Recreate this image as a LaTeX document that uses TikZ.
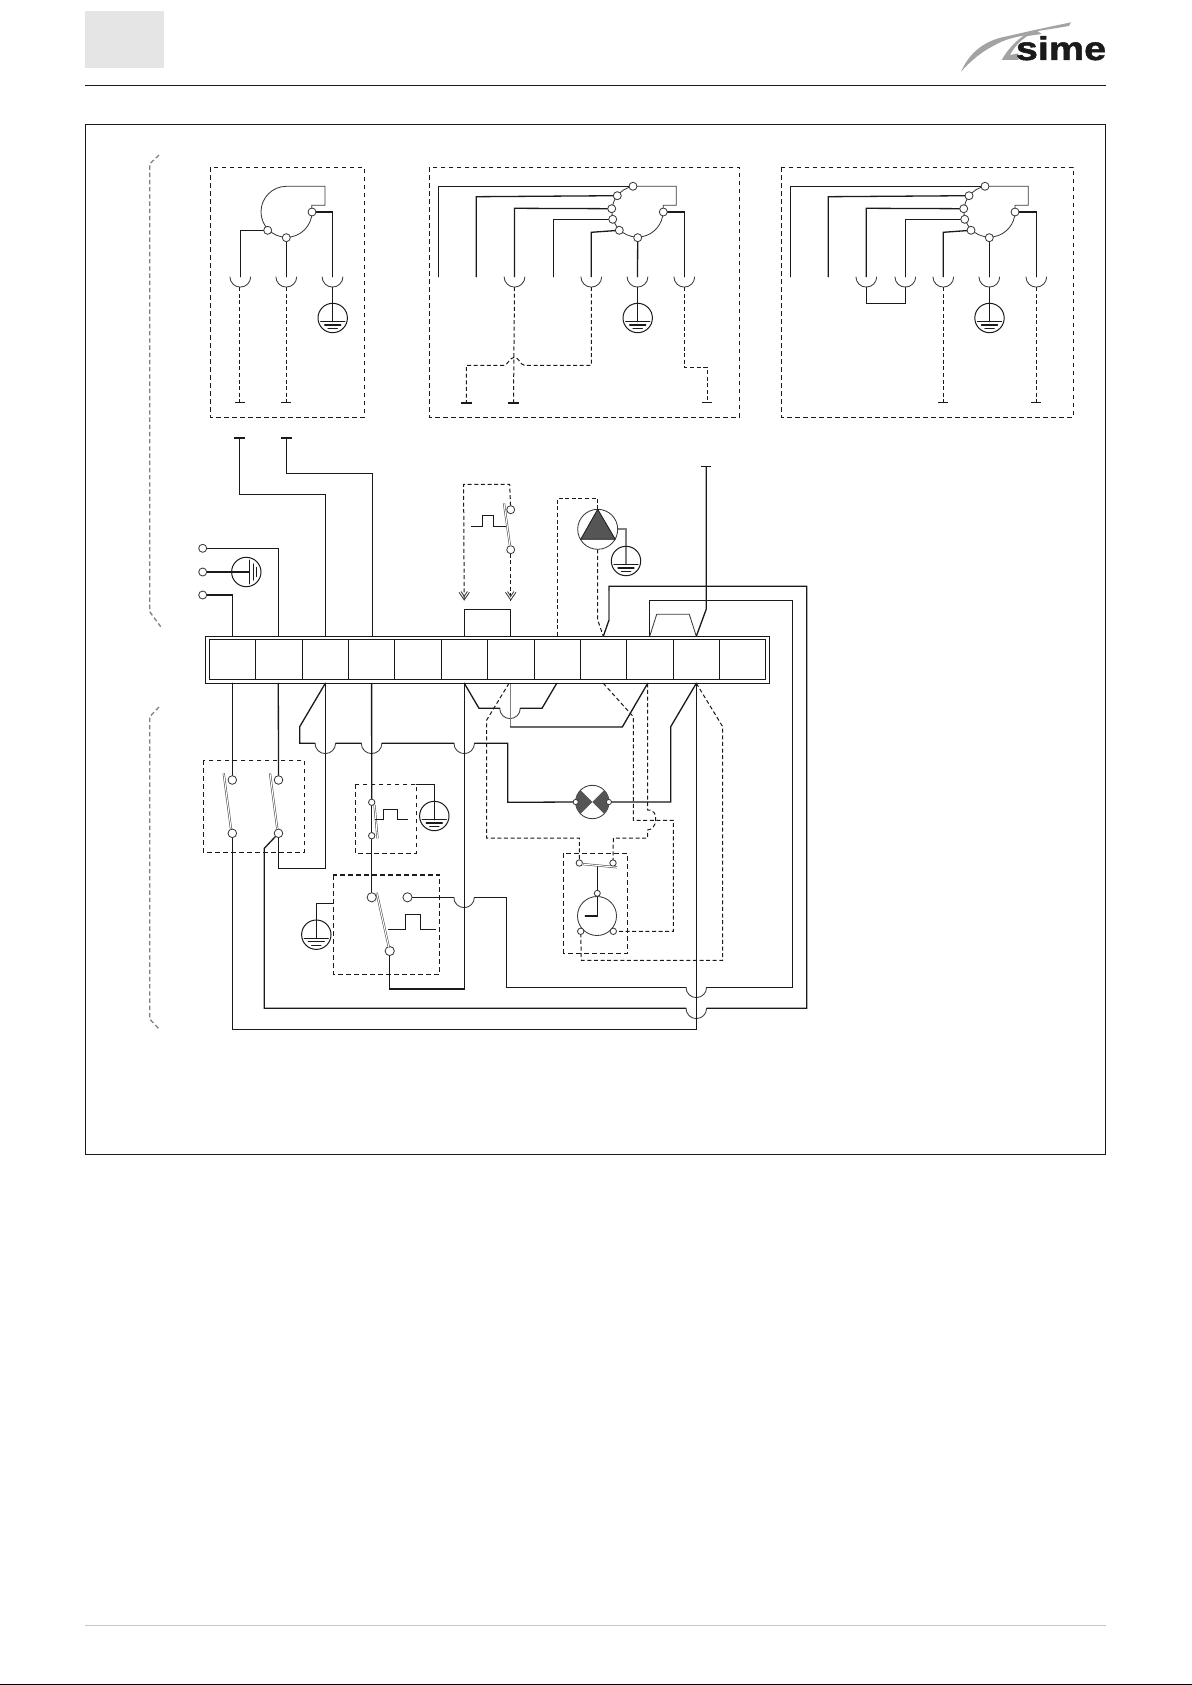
\documentclass[tikz,border=0pt]{standalone}
\usepackage{fontspec}
\usetikzlibrary{backgrounds}
\newfontfamily\logofont[FakeStretch=1.2,BoldFeatures={FakeBold=1.5}]{Liberation Sans}
\definecolor{ink}{HTML}{1A1A1A}
\definecolor{thinink}{HTML}{3A3A3A}
\definecolor{hatch}{HTML}{555555}
\definecolor{swoosh}{HTML}{A3A3A3}
\tikzset{
  wire/.style={draw=ink,line width=0.65pt,line cap=round,line join=miter},
  gwire/.style={draw=gray,line width=0.9pt},
  thinl/.style={draw=thinink,line width=0.42pt},
  frameline/.style={draw=ink,line width=0.75pt},
  dbox/.style={draw=ink,line width=0.55pt,dash pattern=on 2.4pt off 1.6pt},
  dwire/.style={draw=ink,line width=0.5pt,dash pattern=on 2pt off 1.3pt},
  bracket/.style={draw=gray,line width=0.65pt,dash pattern=on 2.2pt off 1.4pt},
  term/.style={circle,draw=thinink,line width=0.42pt,fill=white,inner sep=0pt,outer sep=0pt,minimum size=4pt},
  smallterm/.style={term,minimum size=3.2pt},
  bigterm/.style={term,minimum size=4.6pt},
  gnd/.style={circle,draw=ink,line width=0.5pt,inner sep=0pt,outer sep=0pt,minimum size=14.7pt},
  teethin/.style={rectangle,fill=ink,inner sep=0pt,outer sep=0pt,minimum width=5pt,minimum height=0.5pt},
  teethick/.style={rectangle,fill=ink,inner sep=0pt,outer sep=0pt,minimum width=5.5pt,minimum height=1pt},
  cell/.style={rectangle,draw=ink,line width=0.6pt,inner sep=0pt,outer sep=0pt,minimum height=20pt},
  blade/.style={draw=thinink,line width=0.25pt,double=white,double distance=0.55pt},
  pulse/.style={draw=ink,line width=0.6pt},
}
\newcommand\socket[1]{\draw[thinl] ([xshift=-5.2pt]#1) arc (180:360:5.2pt);}
\newcommand\hopx[2]{\draw[thinl] (#1-10.3,#2) arc (180:360:5.15pt);}
\newcommand\gndlines[1]{%
  \draw[wire] ([xshift=-6pt,yshift=-1.85pt]#1.center) -- ++(12pt,0);
  \draw[wire] ([xshift=-4pt,yshift=-3.5pt]#1.center) -- ++(8pt,0);
  \draw[wire] ([xshift=-2.3pt,yshift=-5.35pt]#1.center) -- ++(4.6pt,0);}
\begin{document}
\begin{tikzpicture}[x=0.5pt,y=-0.5pt]
\useasboundingbox (0,0) rectangle (1192,1685);
\begin{scope}[on background layer]
\fill[white] (0,0) rectangle (1192,1685);
\end{scope}
% page furniture
\fill[fill=black!10!white,fill=gray!20!white] (85,11) rectangle (164,68);
\draw[frameline] (85,85.3) -- (1105.7,85.3);
\draw[frameline] (85.3,124.3) rectangle (1105.3,1154.3);
\draw[draw=black!22,line width=0.6pt] (85,1625.4) -- (1106,1625.4);
\fill[black] (0,1683.7) rectangle (1192,1685);
% logo
\begin{scope}[shift={(950,10)},x=0.16667pt,y=-0.16667pt]
\fill[swoosh] (33,185) .. controls (60,125) and (105,90) .. (175,78) .. controls (230,65) and (300,50) .. (363,37) -- (357,48) .. controls (320,54) and (285,60) .. (262,63) -- (230,75) .. controls (190,82) and (160,90) .. (135,105) .. controls (95,125) and (65,150) .. (33,185) -- cycle;
\fill[swoosh] (238,64) .. controls (200,90) and (175,115) .. (155,150) -- (205,150) -- (205,130) -- (180,135) .. controls (190,115) and (210,92) .. (232,78) -- (275,72) -- (262,63) -- cycle;
\end{scope}
\node[anchor=base,inner sep=0pt,text=ink] (logo) at (1061,60) {\fontsize{16.5pt}{18pt}\logofont\bfseries sime};
% brackets
\draw[bracket] (159,155) -- (149.7,164) -- (149.7,611.7) -- (160.7,626.7);
\draw[bracket] (159,707) -- (149.7,716.7) -- (149.7,1019) -- (160,1030);
% dashed boxes
\draw[dbox] (210.3,167.3) rectangle (364.3,417.3);
\draw[dbox] (429.3,167.3) rectangle (739.3,417.3);
\draw[dbox] (781.3,167.3) rectangle (1073.3,417.3);
\draw[dbox] (203.3,760.3) rectangle (304.3,852.3);
\draw[dbox] (355.3,784.3) rectangle (416.3,853.3);
\draw[dbox] (333.3,875) rectangle (439.7,974.3);
\draw[dbox] (563.7,853.3) rectangle (627.3,953.3);
% terminal block
\draw[wire] (205.3,636.3) rectangle (769.3,683.3);
\foreach \i/\a/\b in {1/209.3/255.7,2/255.7/302.7,3/302.7/348.7,4/348.7/394.7,5/394.7/441.7,6/441.7/487.7,7/487.7/534.3,8/534.3/580.3,9/580.3/626.7,10/626.7/673.7,11/673.7/719.7,12/719.7/765.3}
  \node[cell,minimum width={(\b-\a)*0.5pt}] (cell\i) at ({(\a+\b)/2},659.3) {};
\foreach \i/\x in {1/232.3,2/278.3,3/325.3,4/372,5/418,6/464.3,7/510.5,8/557.3,9/603.3,10/649.7,11/696.3,12/742.5}{
  \coordinate (up\i) at (\x,636.3);
  \coordinate (dn\i) at (\x,683.3);}
% fan 1
\draw[thinl] (286.5,186.3) arc (90:360:12.75pt) -- (311.7,205.3) -- (325,205.3) -- (325,186.3) -- cycle;
\node[term] (fa1) at (267.7,230.3) {};
\node[term] (fa2) at (286.3,237.7) {};
\node[term] (fa3) at (312,212) {};
\foreach \n/\x in {sa1/240.3,sa2/286.3,sa3/332.5}{\coordinate (\n) at (\x,276.7); \socket{\n}}
\node[teethin] (ea1) at (239.5,402.3) {};
\node[teethin] (ea2) at (286.3,402.3) {};
\node[gnd] (ga) at (332.7,318) {}; \gndlines{ga}
% fan 2
\draw[thinl] (633,186.3) arc (100:360:12.8pt) -- (663.3,205.3) -- (676.3,205.3) -- (676.3,186.3) -- cycle;
\node[term] (fb1) at (633,186.3) {};
\node[term] (fb2) at (617.3,195.7) {};
\node[term] (fb3) at (611.7,208.7) {};
\node[term] (fb4) at (612.7,219.3) {};
\node[term] (fb5) at (619.3,230.3) {};
\node[term] (fb6) at (637.7,237.7) {};
\node[term] (fb7) at (663.3,212) {};
\foreach \n/\x in {sb3/514.5,sb5/591.3,sb6/637.5,sb7/684.3}{\coordinate (\n) at (\x,276.7); \socket{\n}}
\coordinate (wb1) at (438.3,276.7);
\coordinate (wb2) at (476.3,276.7);
\coordinate (wb4) at (553.3,276.7);
\node[teethick] (eb1) at (466.3,403) {};
\node[teethick] (eb2) at (513.5,403) {};
\node[teethin] (eb3) at (707,402.5) {};
\node[gnd] (gb) at (637.7,318) {}; \gndlines{gb}
% fan 3
\draw[thinl] (985,186.3) arc (100:360:12.8pt) -- (1015,205.3) -- (1028.3,205.3) -- (1028.3,186.3) -- cycle;
\node[term] (fc1) at (985,186.3) {};
\node[term] (fc2) at (969,195.7) {};
\node[term] (fc3) at (963.7,208.7) {};
\node[term] (fc4) at (964.7,219.3) {};
\node[term] (fc5) at (971,230.3) {};
\node[term] (fc6) at (989.3,237.7) {};
\node[term] (fc7) at (1015,212) {};
\foreach \n/\x in {sc3/866.3,sc4/905.3,sc5/943.3,sc6/989.3,sc7/1036.3}{\coordinate (\n) at (\x,276.7); \socket{\n}}
\coordinate (wc1) at (790.3,276.7);
\coordinate (wc2) at (828.3,276.7);
\node[teethin] (ec1) at (943.3,402.3) {};
\node[teethin] (ec2) at (1036.3,402.3) {};
\node[gnd] (gc) at (989.5,318) {}; \gndlines{gc}
% lower tees
\node[teethick] (ta1) at (239.8,437.7) {};
\node[teethick] (ta2) at (286.2,437.7) {};
\node[teethin] (ta3) at (706.3,466.3) {};
% left terminals
\node[term] (la) at (202.7,548.3) {};
\node[term] (lb) at (202.7,572) {};
\node[term] (lc) at (202.7,595) {};
\node[gnd] (gl) at (246.3,572) {};
\draw[wire] (249.3,560.3) -- (249.3,583.7);
\draw[wire] (253.3,564) -- (253.3,580);
\draw[wire] (256.7,567.5) -- (256.7,576.5);
% top switch
\node[term] (ua) at (510.7,509.7) {};
\node[term] (ub) at (510.7,549.7) {};
\draw[blade] (504,503.3) -- (510,546);
\draw[pulse] (471,526.3) -- (482.3,526.3) -- (482.3,515.7) -- (493.3,515.7) -- (493.3,526.3) -- (506,526.3);
\coordinate (aa) at (464.2,600);
\coordinate (ab) at (510.7,600);
\draw[thinl] (459,592.3) -- (464.2,600) -- (469.4,592.3) (461,591.5) -- (464.2,596.3) -- (467.4,591.5);
\draw[thinl] (505.5,592.3) -- (510.7,600) -- (515.9,592.3) (507.5,591.5) -- (510.7,596.3) -- (513.9,591.5);
% pump
\node[circle,draw=thinink,line width=0.42pt,inner sep=0pt,outer sep=0pt,minimum size=20pt] (pump) at (597.7,529.3) {};
\draw[fill=hatch,draw=ink,line width=0.4pt] (597.7,509.3) -- (615.3,539.3) -- (580.7,539.3) -- cycle;
\node[gnd] (gp) at (626,561) {}; \gndlines{gp}
% main switches
\node[term,minimum size=4.3pt] (sw1) at (232.3,780) {};
\node[term,minimum size=4.3pt] (sw2) at (232.3,833.3) {};
\node[term,minimum size=4.3pt] (sw3) at (278.5,780) {};
\node[term,minimum size=4.3pt] (sw4) at (278.5,833.3) {};
\draw[blade] (223.7,773.3) -- (231,829);
\draw[blade] (270,773.3) -- (277.3,829);
% small switch
\node[smallterm] (tha) at (371.7,802.3) {};
\node[smallterm] (thb) at (371.7,835.7) {};
\draw[blade] (374.5,805) -- (377.5,838.3);
\draw[pulse] (375,819.3) -- (383.3,819.3) -- (383.3,809.3) -- (397.3,809.3) -- (397.3,819.3) -- (407.7,819.3);
\node[gnd] (gs) at (434.3,816) {}; \gndlines{gs}
% big switch
\node[bigterm] (bsa) at (371.7,897.3) {};
\node[bigterm] (bsb) at (407.5,897.3) {};
\node[bigterm] (bsc) at (389.7,951) {};
\draw[blade] (376.7,892.7) -- (389,948);
\draw[pulse] (388.3,929.7) -- (405.7,929.7) -- (405.7,914.3) -- (420.3,914.3) -- (420.3,929.7) -- (435.7,929.7);
\node[gnd] (gt) at (316.3,934.7) {}; \gndlines{gt}
% lamp
\node[circle,draw=thinink,line width=0.42pt,inner sep=0pt,outer sep=0pt,minimum size=16.7pt] (lamp) at (592.3,802) {};
\fill[hatch] (592.3,802) -- (580.5,790.2) arc (135:225:8.35pt) -- cycle;
\fill[hatch] (592.3,802) -- (604.1,790.2) arc (45:-45:8.35pt) -- cycle;
\node[term,minimum size=2.6pt] (la1) at (575.7,802) {};
\node[term,minimum size=2.6pt] (la2) at (608.9,802) {};
% bottom device
\node[smallterm] (da) at (579.3,863) {};
\node[smallterm] (db) at (613,863) {};
\draw[blade] (582,864) -- (617,867.3);
\node[term,minimum size=3pt] (dc) at (597.3,893.3) {};
\node[circle,draw=thinink,line width=0.42pt,inner sep=0pt,outer sep=0pt,minimum size=19.5pt] (dm) at (597,916) {};
\node[smallterm] (dd) at (580.7,931.3) {};
\node[smallterm] (de) at (613.3,931.3) {};
% ---- connectors
\begin{scope}[on background layer]
% fan 1
\draw[wire] (fa1) -- (240.3,230.3) -- (sa1);
\draw[wire] (fa2) -- (sa2);
\draw[wire] (fa3) -- (332.5,212) -- (sa3);
\draw[wire] ([yshift=-5.2pt]sa3) -- (332.5,321.7);
\draw[dwire] ([xshift=-0.4pt,yshift=-5.2pt]sa1) -- (ea1);
\draw[dwire] ([yshift=-5.2pt]sa2) -- (ea2);
% fan 2
\draw[wire] (fb1) -- (438.3,186.3) -- (wb1);
\draw[wire] (fb2) -- (476.3,196.7) -- (wb2);
\draw[wire] (fb3) -- (514.5,208.3) -- (sb3);
\draw[wire] (fb4) -- (553.3,219.3) -- (wb4);
\draw[wire] (fb5) -- (591.3,232.3) -- (sb5);
\draw[wire] (fb6) -- (sb6);
\draw[wire] (fb7) -- (684.3,212) -- (sb7);
\draw[wire] ([yshift=-5.2pt]sb6) -- (637.5,321.7);
\draw[dwire] ([yshift=-5.2pt]sb3) -- (eb2);
\draw[dwire] ([yshift=-5.2pt]sb5) -- (591.3,365.3) -- (524.3,365.3) .. controls (520.5,365.3) and (519,357.3) .. (514.3,357.3) .. controls (510,357.3) and (507.5,365.3) .. (504,365.3) -- (466.3,365.3) -- (eb1);
\draw[dwire] ([yshift=-5.2pt]sb7) -- (684.3,367.3) -- (707,367.3) -- (eb3);
% fan 3
\draw[wire] (fc1) -- (790.3,186.3) -- (wc1);
\draw[wire] (fc2) -- (828.3,196.7) -- (wc2);
\draw[wire] (fc3) -- (866.3,208.3) -- (sc3);
\draw[wire] (fc4) -- (905.3,219.3) -- (sc4);
\draw[wire] (fc5) -- (943.3,232.3) -- (sc5);
\draw[wire] (fc6) -- (sc6);
\draw[wire] (fc7) -- (1036.3,212) -- (sc7);
\draw[wire] ([yshift=-5.2pt]sc3) -- (866.3,303.3) -- (905.3,303.3) -- ([yshift=-5.2pt]sc4);
\draw[wire] ([yshift=-5.2pt]sc6) -- (989.3,321.7);
\draw[dwire] ([yshift=-5.2pt]sc5) -- (ec1);
\draw[dwire] ([yshift=-5.2pt]sc7) -- (ec2);
% upper block wires
\draw[wire] (ta1) -- (239.8,494.3) -- (325.3,494.3) -- (up3);
\draw[wire] (ta2) -- (286.2,473.3) -- (372.3,473.3) -- (372.3,636.3);
\draw[wire] (la) -- (278.3,548.3) -- (up2);
\draw[wire] (lb) -- (249.3,572);
\draw[wire] (lc) -- (232.3,595) -- (up1);
% top switch dashes
\draw[dwire] (ua) -- (509.7,484.3) -- (463.6,484.3) -- (aa);
\draw[dwire] (ub) -- (ab);
\draw[wire] (up6) -- (464.3,609.3) -- (510.5,609.3) -- (up7);
% pump
\draw[dwire] (pump.north) -- (597.7,498.3) -- (557.3,498.3) -- (up8);
\draw[dwire] (pump.south) -- (597.7,620) -- (up9);
\draw[gwire] (pump.east) -- (626,529.3) -- (626,564.3);
% long wires from the right of the block
\draw[wire] (up9) -- (609,620);
\draw[gwire] (609,620) -- (609,590);
\draw[wire] (609,590) -- (609,586.3) -- (806.7,586.3) -- (806.7,1008.3) -- (706.6,1008.3) (686,1008.3) -- (264.3,1008.3) -- (264.3,848.3) -- (sw4);
\hopx{696.3}{1008.3}
\draw[wire] (up10) -- (649.7,600.7) -- (792.3,600.7) -- (792.3,987.3) -- (706.6,987.3) (686,987.3) -- (506.3,987.3) -- (506.3,897.3) -- (474.4,897.3) (453.8,897.3) -- (bsb);
\hopx{696.3}{987.3}
\hopx{464.1}{897.3}
\draw[thinl] (up10) -- (656.7,614.3) -- (689.3,614.3) -- (up11);
\draw[wire] (up11) -- (706.3,609) -- (ta3);
% below the block
\draw[wire] (dn1) -- (sw1);
\draw[wire] (dn2) -- (sw3);
\draw[wire] (sw2) -- (232.3,1029.3) -- (696.3,1029.3) -- (dn11);
\draw[wire] (sw4) -- (278.5,868.3) -- (325.3,868.3) -- (dn3);
\draw[wire] (dn3) -- (299.7,726.7) -- (299.7,743.3) -- (315,743.3) (335.6,743.3) -- (361.3,743.3) (381.9,743.3) -- (453.9,743.3) (474.5,743.3) -- (507.7,743.3) -- (507.7,802.3) -- (la1);
\hopx{325.3}{743.3}
\hopx{371.6}{743.3}
\hopx{464.2}{743.3}
\draw[wire] (la2) -- (670.7,802) -- (670.7,726.7) -- (dn11);
\draw[wire] (371.6,683.3) -- (tha);
\draw[wire] (tha) -- (thb);
\draw[wire] (thb) -- (bsa);
\draw[wire] (416.3,784.3) -- (434.3,784.3) -- (434.3,819.7);
\draw[wire] (333.3,903.3) -- (316.3,903.3) -- (316.3,938.4);
\draw[wire] (bsc) -- (389.7,989) -- (464.3,989) -- (dn6);
\draw[wire] (dn6) -- (479,708.3) -- (499.7,708.3) (520.3,708.3) -- (542,708.3) -- (556.7,683.3);
\hopx{510}{708.3}
\draw[gwire] (dn7) -- (510.5,727);
\draw[wire] (510.5,727) -- (622.3,727) -- (647.7,683.3);
% dashed lower wires
\draw[dwire] (509,683.3) -- (486.7,720) -- (486.7,838) -- (579.3,838) -- (da);
\draw[dwire] (dn9) -- (633.3,716.7) -- (633.3,820.3) -- (673.3,820.3) -- (673.3,931.3) -- (de);
\draw[dwire] (647.7,683.3) -- (647.7,810) .. controls (655,810) and (655.7,815) .. (655.7,820) .. controls (655.7,825) and (652,830) .. (647.7,830) -- (647.7,838) -- (613.3,838) -- (db);
\draw[dwire] (dn11) -- (722.7,726.7) -- (722.7,960.3) -- (581.3,960.3) -- (dd);
% device inner
\draw[wire] (597.3,865.7) -- (dc);
\draw[wire] (dc) -- (597.3,916) -- (585.3,916);
\end{scope}
% sockets of fan drawn above lines already
\end{tikzpicture}
\end{document}
